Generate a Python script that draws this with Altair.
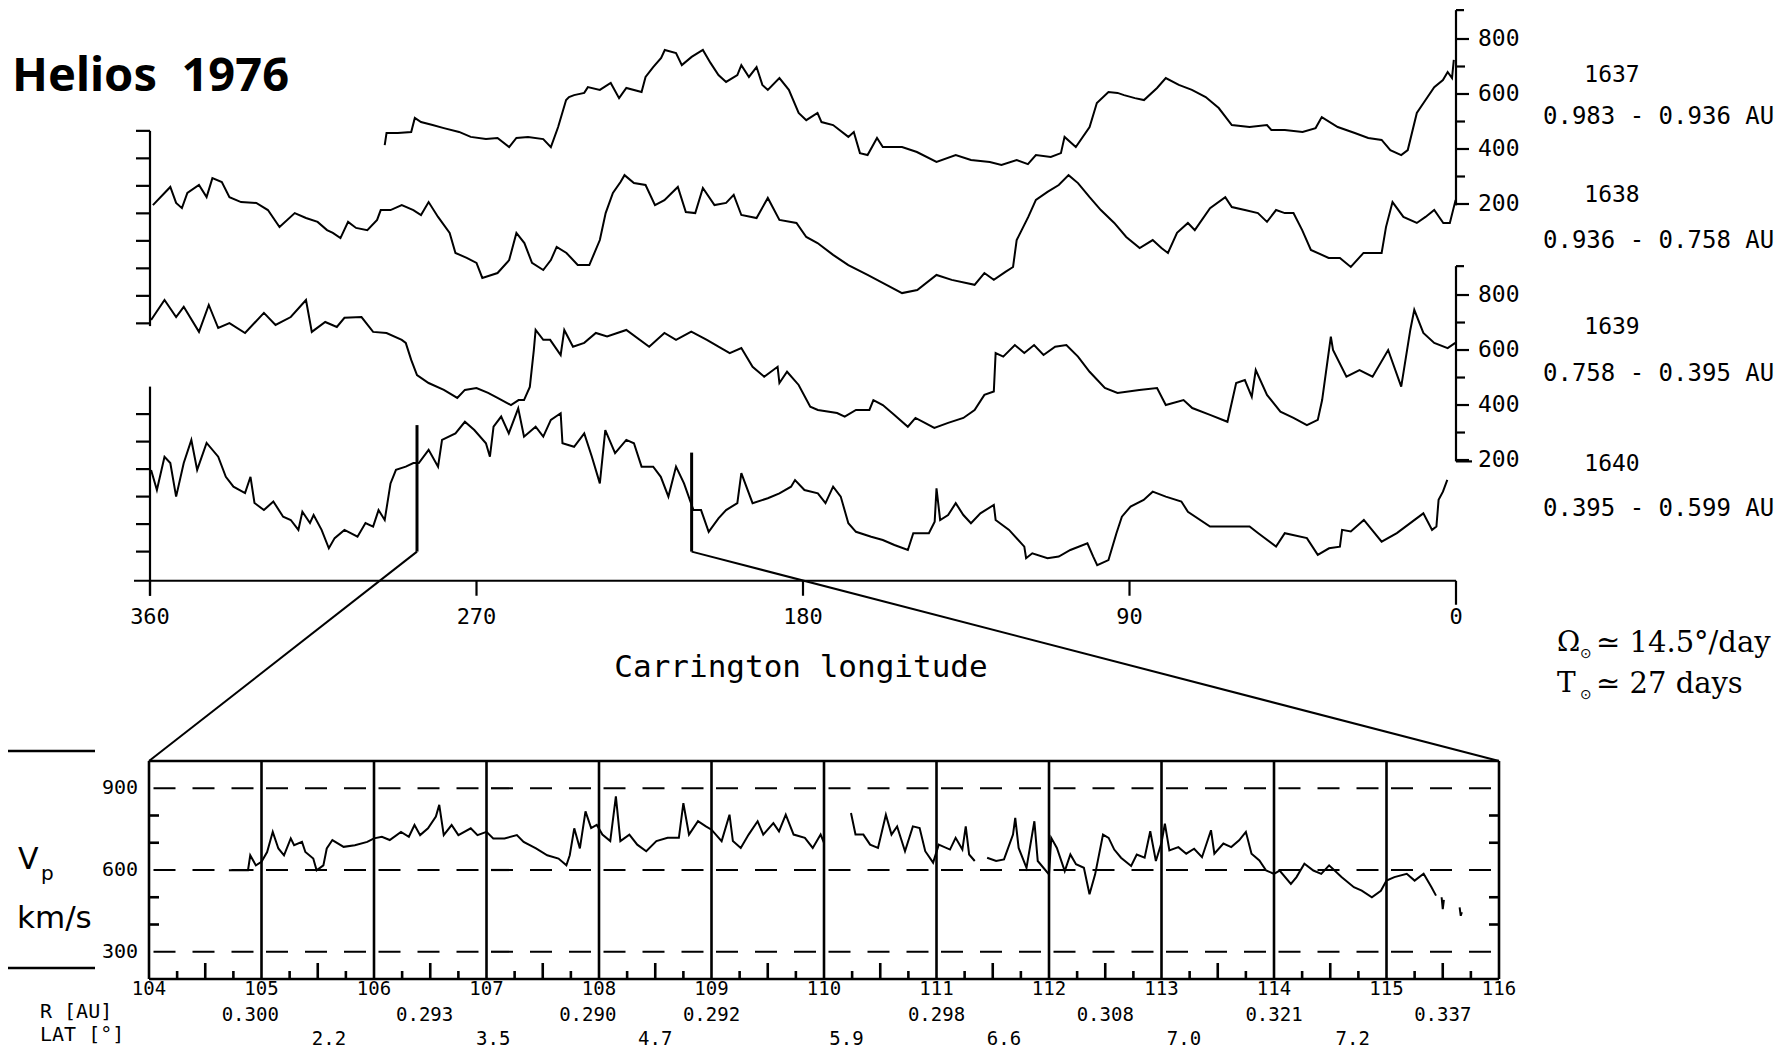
import altair as alt
import pandas as pd

# ---------------- data ----------------
rot_names = ["1637", "1638", "1639", "1640"]
rot_ranges = ["0.983 - 0.936 AU", "0.936 - 0.758 AU", "0.758 - 0.395 AU", "0.395 - 0.599 AU"]

lon_1637 = [295.3, 294.8, 291.7, 288.0, 287.0, 285.3, 282.1, 279.0, 274.8, 271.6, 267.4, 264.2, 261.0, 259.0,
            255.8, 251.6, 249.5, 247.5, 245.3, 244.5, 243.1, 240.3, 239.3, 236.0, 233.0, 230.7, 228.7, 224.5,
            223.4, 221.3, 219.1, 218.1, 215.0, 213.4, 210.7, 207.6, 205.5, 203.3, 201.2, 198.1, 197.0, 194.9,
            192.8, 191.2, 189.7, 186.5, 183.9, 181.2, 179.1, 176.0, 174.9, 171.7, 167.5, 166.0, 164.3, 162.2,
            159.6, 158.0, 152.7, 148.6, 143.2, 137.9, 133.7, 128.5, 125.3, 121.1, 118.0, 115.8, 111.7, 108.9,
            107.9, 104.8, 101.0, 99.0, 95.8, 93.3, 91.5, 88.5, 86.0, 82.4, 80.0, 76.4, 72.8, 69.0, 65.4, 61.8,
            56.9, 52.1, 50.9, 47.2, 42.3, 38.7, 37.0, 32.6, 27.9, 24.2, 20.5, 18.1, 15.1, 13.3, 10.8, 8.4, 6.0,
            3.6, 2.3, 1.1, 0.6]
v_1637 = [414, 458, 458, 462, 513, 498, 487, 476, 462, 444, 436, 440, 407, 440,
          444, 436, 407, 480, 578, 589, 596, 604, 625, 615, 640, 585, 622, 607,
          662, 698, 731, 760, 749, 705, 735, 760, 713, 669, 644, 669, 705, 662,
          698, 633, 615, 658, 615, 531, 505, 531, 498, 487, 444, 462, 385, 378,
          440, 407, 407, 389, 353, 378, 360, 353, 342, 360, 345, 378, 371, 385,
          444, 407, 480, 567, 607, 604, 596, 585, 578, 622, 658, 633, 615, 589, 549, 487,
          480, 487, 469, 469, 462, 476, 516, 480, 458, 440, 433, 396, 378, 396, 531, 578, 625,
          651, 680, 658, 724]

lon_1638 = [359.2, 356.0, 354.4, 352.8, 351.2, 349.7, 346.5, 344.4, 342.8, 340.2, 338.1, 334.9, 330.7, 327.5,
            324.3, 320.1, 317.0, 313.8, 311.2, 309.6, 307.5, 305.4, 303.2, 300.1, 297.4, 296.4, 293.7, 290.6,
            287.4, 285.3, 283.2, 280.6, 277.4, 275.8, 272.7, 270.0, 268.4, 264.2, 261.0, 259.0, 256.8, 254.7,
            251.6, 249.5, 247.9, 245.2, 242.1, 238.9, 236.0, 234.4, 232.4, 230.3, 229.2, 226.6, 223.4, 220.8,
            218.2, 214.5, 212.3, 209.7, 207.6, 204.4, 201.2, 199.1, 197.0, 192.8, 189.7, 186.5, 181.8, 179.1,
            176.0, 171.7, 167.5, 162.2, 157.0, 152.7, 148.5, 143.2, 139.0, 132.7, 130.0, 127.4, 124.2, 122.1,
            121.1, 117.9, 115.8, 112.6, 109.5, 106.8, 104.2, 101.0, 97.9, 94.2, 90.9, 87.2, 83.6, 81.2, 79.4,
            76.9, 73.9, 72.0, 67.8, 63.6, 61.8, 58.2, 54.6, 52.1, 49.6, 47.2, 44.8, 42.4, 40.0, 35.1, 32.0,
            29.0, 25.5, 20.5, 19.3, 17.5, 14.5, 10.8, 8.4, 6.0, 3.5, 1.7, 0.1]
v_1638 = [630, 674, 696, 638, 619, 674, 703, 659, 728, 714, 659, 641, 638, 612,
          550, 601, 583, 569, 539, 529, 510, 569, 547, 539, 576, 612, 612, 630,
          612, 594, 641, 587, 529, 456, 438, 420, 365, 383, 430, 529, 492, 420,
          394, 430, 478, 456, 412, 412, 503, 601, 674, 714, 739, 710, 703, 630,
          648, 696, 605, 601, 692, 630, 638, 667, 594, 583, 656, 576, 565, 514,
          492, 449, 412, 376, 340, 310, 321, 376, 358, 340, 383, 358, 387, 405,
          503, 587, 649, 678, 703, 739, 710, 659, 612, 565, 514, 474, 503, 474, 456,
          529, 565, 539, 619, 659, 623, 612, 601, 569, 612, 601, 601, 539, 467, 438, 438,
          405, 456, 456, 550, 641, 587, 565, 587, 612, 565, 565, 649]

lon_1639 = [359.7, 356.0, 352.8, 350.7, 346.5, 343.8, 341.2, 338.1, 333.8, 328.6, 325.4, 321.2, 317.0, 315.4,
            311.7, 308.5, 306.4, 301.7, 298.5, 294.8, 290.6, 289.5, 288.0, 286.4, 283.2, 279.0, 275.3, 273.2,
            270.0, 266.8, 264.2, 260.5, 258.4, 256.9, 255.3, 254.2, 253.7, 251.6, 249.7, 246.8, 245.8, 243.4,
            240.3, 237.1, 234.0, 228.7, 222.4, 218.2, 215.0, 210.8, 206.5, 203.3, 200.2, 197.0, 193.9, 190.7,
            187.0, 186.5, 184.4, 181.2, 178.0, 175.9, 170.6, 168.5, 165.4, 161.7, 160.6, 158.0, 154.8, 151.1,
            149.0, 146.4, 143.8, 140.0, 135.8, 132.7, 130.0, 127.4, 126.9, 124.8, 121.6, 119.0, 116.3, 113.7,
            110.5, 107.4, 104.2, 101.0, 96.8, 93.3, 87.3, 82.4, 80.0, 75.1, 72.7, 67.8, 63.0, 60.6, 58.2, 56.3,
            55.2, 52.1, 48.4, 44.8, 41.1, 38.1, 36.9, 34.5, 33.9, 30.2, 26.6, 23.0, 18.7, 15.1, 12.6, 11.5,
            9.0, 6.0, 2.3, 0.2]
v_1639 = [709, 782, 720, 757, 666, 764, 680, 698, 662, 735, 691, 720, 782, 666,
          702, 684, 717, 720, 666, 662, 637, 626, 564, 509, 480, 455, 426, 455,
          462, 444, 426, 400, 418, 418, 466, 600, 673, 637, 637, 582, 673, 612,
          626, 662, 649, 673, 612, 662, 637, 667, 637, 612, 589, 607, 539, 503,
          539, 480, 521, 473, 394, 382, 371, 358, 382, 382, 418, 400, 364, 321,
          353, 335, 317, 335, 353, 382, 437, 449, 589, 576, 618, 589, 618, 582,
          612, 618, 576, 521, 462, 444, 455, 462, 400, 418, 389, 364, 339, 480, 491, 430,
          527, 437, 376, 353, 327, 346, 418, 649, 600, 503, 527, 503, 600, 467, 673, 746,
          662, 626, 607, 626]

lon_1640 = [359.7, 358.1, 356.0, 354.4, 352.8, 350.7, 348.6, 347.0, 344.4, 341.2, 339.1, 337.0, 333.8, 332.3,
            331.2, 328.6, 326.0, 323.3, 321.2, 319.1, 318.0, 315.9, 314.9, 312.7, 310.7, 309.1, 306.4, 302.8,
            300.6, 298.5, 297.0, 295.3, 293.7, 292.2, 289.5, 287.4, 285.9, 283.2, 280.6, 279.5, 275.8, 273.2,
            270.6, 267.4, 266.3, 265.3, 263.2, 261.1, 258.5, 256.9, 253.7, 251.6, 249.5, 246.8, 246.3, 243.1,
            240.3, 238.2, 236.0, 234.5, 231.8, 228.7, 226.6, 224.5, 221.3, 219.2, 217.1, 215.0, 212.8, 210.2,
            208.1, 206.0, 203.3, 201.2, 198.1, 197.0, 193.9, 189.7, 186.5, 183.3, 182.2, 179.6, 175.9, 173.8,
            171.7, 169.6, 167.5, 165.4, 161.2, 158.0, 154.8, 151.1, 149.6, 145.3, 143.7, 143.2, 142.2, 140.0,
            137.9, 135.8, 133.7, 131.1, 127.4, 126.9, 123.2, 119.0, 118.5, 116.8, 112.6, 109.5, 106.3, 101.6,
            100.0, 98.9, 95.8, 93.6, 92.1, 89.7, 86.1, 83.6, 80.0, 75.7, 73.9, 67.8, 56.9, 54.5, 49.6, 47.2,
            41.1, 38.1, 35.0, 32.0, 31.4, 29.0, 25.4, 20.5, 16.3, 9.0, 6.6, 5.4, 4.8, 3.6, 2.4]
v_1640 = [597, 524, 645, 622, 500, 622, 706, 597, 695, 645, 572, 536, 513, 572,
          477, 451, 482, 427, 415, 379, 445, 404, 433, 379, 312, 349, 379, 354,
          404, 391, 451, 415, 548, 597, 609, 622, 622, 670, 609, 706, 730, 772,
          742, 694, 645, 754, 791, 730, 821, 718, 754, 718, 779, 803, 694, 681,
          730, 645, 548, 742, 658, 706, 694, 609, 609, 572, 500, 609, 548, 451,
          451, 372, 421, 451, 476, 585, 476, 494, 512, 536, 560, 524, 512, 476,
          536, 500, 403, 372, 354, 342, 324, 306, 367, 367, 409, 530, 415, 433,
          476, 433, 403, 439, 470, 415, 379, 318, 276, 294, 276, 282, 306, 330,
          282, 251, 269, 367, 427, 464, 488, 518, 500, 482, 445, 391, 391, 367, 318, 367,
          349, 288, 312, 318, 379, 373, 415, 336, 367, 439, 379, 391, 488, 518, 561]

# high resolution segment (days of 1976)
day_hr = [104.71, 104.88, 104.90, 104.95, 105.00, 105.05, 105.10, 105.15, 105.20, 105.26, 105.29, 105.36,
          105.39, 105.46, 105.49, 105.55, 105.58, 105.63, 105.73, 105.83, 105.94, 106.00, 106.07, 106.14,
          106.24, 106.31, 106.36, 106.41, 106.48, 106.55, 106.58, 106.62, 106.69, 106.75, 106.86, 106.92,
          107.00, 107.06, 107.16, 107.27, 107.33, 107.44, 107.54, 107.64, 107.71, 107.74, 107.78, 107.83,
          107.88, 107.93, 107.98, 108.03, 108.10, 108.15, 108.19, 108.27, 108.34, 108.42, 108.51, 108.61,
          108.71, 108.75, 108.80, 108.88, 108.95, 109.00, 109.09, 109.16, 109.19, 109.26, 109.33, 109.41,
          109.46, 109.55, 109.60, 109.66, 109.73, 109.83, 109.90, 109.97, 110.00,
          110.24, 110.28, 110.35, 110.41, 110.48, 110.55, 110.60, 110.65, 110.72, 110.79, 110.85, 110.90,
          110.97, 111.02, 111.12, 111.17, 111.23, 111.26, 111.29, 111.34,
          111.45, 111.53, 111.60, 111.68, 111.70, 111.73, 111.80, 111.87, 111.90, 112.00, 112.02, 112.07,
          112.14, 112.19, 112.24, 112.31, 112.36, 112.41, 112.48, 112.53, 112.58, 112.64, 112.73, 112.78,
          112.85, 112.90, 112.95, 113.00, 113.03, 113.07, 113.15, 113.22, 113.29, 113.36, 113.44, 113.47,
          113.55, 113.62, 113.69, 113.75, 113.80, 113.87, 113.93, 114.00, 114.05, 114.15, 114.20, 114.27,
          114.35, 114.42, 114.49, 114.60, 114.71, 114.78, 114.87, 114.95, 115.00, 115.07, 115.18, 115.25,
          115.33, 115.40, 115.44,
          115.49, 115.50, 115.51,
          115.65, 115.66, 115.67]
v_hr = [599, 599, 654, 617, 630, 666, 740, 679, 654, 716, 691, 703,
        666, 642, 599, 617, 679, 710, 685, 691, 703, 716, 722, 710,
        740, 722, 765, 728, 753, 796, 839, 728, 765, 728, 753, 728,
        740, 716, 716, 728, 703, 679, 654, 642, 617, 654, 753, 679,
        815, 754, 766, 730, 706, 870, 706, 730, 693, 669, 706, 718,
        718, 845, 730, 779, 760, 748, 706, 803, 706, 681, 730, 779,
        730, 772, 742, 803, 730, 718, 681, 730, 700,
        809, 730, 730, 693, 681, 803, 730, 760, 669, 760, 754, 669,
        627, 693, 675, 718, 675, 760, 657, 633,
        645, 633, 639, 730, 791, 681, 608, 779, 633, 584, 718, 681,
        596, 657, 621, 608, 511, 584, 730, 718, 675, 645, 615, 657,
        645, 742, 633, 700, 770, 672, 684, 660, 678, 647, 746, 660,
        697, 684, 709, 740, 660, 635, 598, 586, 598, 549, 574, 623,
        598, 586, 617, 574, 537, 524, 500, 524, 561, 574, 586, 561,
        586, 537, 506,
        500, 456, 490,
        463, 432, 445]
seg_hr = [1] * 81 + [2] * 20 + [3] * 63 + [4] * 3 + [5] * 3

lon_ticks = [360, 270, 180, 90, 0]
speed_ticks_up = [800, 600, 400, 200]
day_ticks = list(range(104, 117))
day_labels = ["104", "105", "106", "107", "108", "109", "110", "111", "112", "113", "114", "115", "116"]
vp_ticks = [900, 600, 300]
r_days = [104.9, 106.45, 107.9, 109.0, 111.0, 112.5, 114.0, 115.5]
r_vals = ["0.300", "0.293", "0.290", "0.292", "0.298", "0.308", "0.321", "0.337"]
lat_days = [105.6, 107.06, 108.5, 110.2, 111.6, 113.2, 114.7]
lat_vals = ["2.2", "3.5", "4.7", "5.9", "6.6", "7.0", "7.2"]
zoom_lon = [286.4, 210.7]          # start / end of the expanded interval
zoom_top_v = [760, 660]            # top of the interval markers (km/s, rotation 1640)

# ---------------- layout ----------------
W, H = 1790, 1055
X360, X0 = 150.0, 1456.0
KX = (X0 - X360) / 360.0
Y200, PXV = 204.0, 0.275
OFFS = {"1637": 0, "1638": -434, "1639": -931, "1640": -1364}
XD104, DPX = 149.0, 112.5
YV1000, VPX = 761.0, 0.2725
FONT_P = "DejaVu Sans Mono"


def px_lon(L):
    return X360 + (360 - L) * KX


def py_u(u):
    return Y200 - (u - 200) * PXV


def px_day(d):
    return XD104 + (d - 104) * DPX


def py_v(v):
    return YV1000 + (1000 - v) * VPX


XS_UP = alt.Scale(domain=[360 - (W - X360) / KX, 360 + X360 / KX], reverse=True, nice=False, zero=False)
YS_UP = alt.Scale(domain=[200 - (H - Y200) / PXV, 200 + Y200 / PXV], nice=False, zero=False)
XS_LO = alt.Scale(domain=[104 - XD104 / DPX, 104 + (W - XD104) / DPX], nice=False, zero=False)
YS_LO = alt.Scale(domain=[1000 - (H - YV1000) / VPX, 1000 + YV1000 / VPX], nice=False, zero=False)


def UX(f="lon"):
    return alt.X(f"{f}:Q", scale=XS_UP, axis=None)


def UY(f="u"):
    return alt.Y(f"{f}:Q", scale=YS_UP, axis=None)


def LX(f="day"):
    return alt.X(f"{f}:Q", scale=XS_LO, axis=None)


def LY(f="v"):
    return alt.Y(f"{f}:Q", scale=YS_LO, axis=None)


layers = []

# ---------- upper panel: four rotations ----------
rows = []
for name, lons, vs in [("1637", lon_1637, v_1637), ("1638", lon_1638, v_1638),
                       ("1639", lon_1639, v_1639), ("1640", lon_1640, v_1640)]:
    for i, (L, v) in enumerate(zip(lons, vs)):
        rows.append({"rot": name, "i": i, "lon": L, "u": v + OFFS[name]})
layers.append(alt.Chart(pd.DataFrame(rows)).mark_line(color="black", strokeWidth=2.0, strokeJoin="miter").encode(
    x=UX(), y=UY(), detail="rot:N", order="i:Q"))

# rules in upper-panel coordinates
rr = []


def urule(l1, l2, u1, u2):
    rr.append({"lon": l1, "lon2": l2, "u": u1, "u2": u2})


# x axis
u_axis = -1170
urule(360 + 16 / KX, 0, u_axis, u_axis)
for L in lon_ticks:
    urule(L, L, u_axis, u_axis - (24 if L == 0 else 15) / PXV)
# right axes (1637 scale and 1639 scale)
for off in (OFFS["1637"], OFFS["1639"]):
    urule(0, 0, off + 905, off + 195)
    urule(0, -8 / KX, off + 905, off + 905)
    for v in range(200, 900, 100):
        ln = 13 if v % 200 == 0 else 9
        urule(0, -ln / KX, off + v, off + v)
urule(0, -16 / KX, OFFS["1639"] + 195, OFFS["1639"] + 195)
# left axes (1638 and 1640)
urule(360, 360, OFFS["1638"] + 900, OFFS["1638"] + 190)
for v in range(200, 1000, 100):
    urule(360, 360 + 14 / KX, OFFS["1638"] + v, OFFS["1638"] + v)
urule(360, 360, OFFS["1640"] + 900, u_axis - 15 / PXV)
for v in range(300, 900, 100):
    urule(360, 360 + 14 / KX, OFFS["1640"] + v, OFFS["1640"] + v)
layers.append(alt.Chart(pd.DataFrame(rr)).mark_rule(color="black", strokeWidth=2.2).encode(
    x=UX(), x2="lon2:Q", y=UY(), y2="u2:Q"))

# interval markers on rotation 1640
mk = pd.DataFrame({"lon": zoom_lon, "lon2": zoom_lon,
                   "u": [300 + OFFS["1640"]] * 2, "u2": [t + OFFS["1640"] for t in zoom_top_v]})
layers.append(alt.Chart(mk).mark_rule(color="black", strokeWidth=3).encode(
    x=UX(), x2="lon2:Q", y=UY(), y2="u2:Q"))

# upper tick labels
layers.append(alt.Chart(pd.DataFrame({"lon": lon_ticks, "t": [str(t) for t in lon_ticks]})).mark_text(
    font=FONT_P, fontSize=22, align="center", baseline="middle").encode(
    x=UX(), y=alt.value(617), text="t:N"))
sl = []
for off in (OFFS["1637"], OFFS["1639"]):
    for v in speed_ticks_up:
        sl.append({"u": v + off, "t": str(v)})
layers.append(alt.Chart(pd.DataFrame(sl)).mark_text(
    font=FONT_P, fontSize=23, align="left", baseline="middle").encode(
    x=alt.value(1478), y=UY(), text="t:N"))

# rotation labels
rl = pd.DataFrame({"t": rot_names, "y": [75, 195, 327, 464]})
layers.append(alt.Chart(rl).mark_text(font=FONT_P, fontSize=23, align="center", baseline="middle").encode(
    x=alt.value(1612), y=alt.Y("y:Q", scale=None), text="t:N"))
rg = pd.DataFrame({"t": rot_ranges, "y": [117, 241, 374, 509]})
layers.append(alt.Chart(rg).mark_text(font=FONT_P, fontSize=24, align="left", baseline="middle").encode(
    x=alt.value(1543), y=alt.Y("y:Q", scale=None), text="t:N"))

# ---------- lower panel ----------
hr = pd.DataFrame({"day": day_hr, "v": v_hr, "seg": seg_hr, "i": list(range(len(day_hr)))})
layers.append(alt.Chart(hr).mark_line(color="black", strokeWidth=2.0).encode(
    x=LX(), y=LY(), detail="seg:N", order="i:Q"))

lr = []


def lrule(d1, d2, v1, v2):
    lr.append({"day": d1, "day2": d2, "v": v1, "v2": v2})


lrule(104, 116, 1000, 1000)
lrule(104, 116, 200, 200)
for d in day_ticks:
    lrule(d, d, 200, 1000)
for v in (400, 500, 700, 800):
    lrule(104, 104 + 10 / DPX, v, v)
    lrule(116, 116 - 10 / DPX, v, v)
for d in range(104, 116):
    for q in (0.25, 0.5, 0.75):
        lrule(d + q, d + q, 200, 200 + (16 if q == 0.5 else 8) / VPX)
layers.append(alt.Chart(pd.DataFrame(lr)).mark_rule(color="black", strokeWidth=2.6).encode(
    x=LX(), x2="day2:Q", y=LY(), y2="v2:Q"))

dl = []
for d in range(104, 116):
    for v in vp_ticks:
        dl.append({"day": d + 0.04, "day2": d + 0.98, "v": v, "v2": v})
layers.append(alt.Chart(pd.DataFrame(dl)).mark_rule(color="black", strokeWidth=2.2, strokeDash=[22, 17]).encode(
    x=LX(), x2="day2:Q", y=LY(), y2="v2:Q"))

layers.append(alt.Chart(pd.DataFrame({"v": vp_ticks, "t": [str(v) for v in vp_ticks]})).mark_text(
    font=FONT_P, fontSize=20, align="right", baseline="middle").encode(
    x=alt.value(138), y=LY(), text="t:N"))
layers.append(alt.Chart(pd.DataFrame({"day": day_ticks, "t": day_labels})).mark_text(
    font=FONT_P, fontSize=19, align="center", baseline="middle").encode(
    x=LX(), y=alt.value(989), text="t:N"))
layers.append(alt.Chart(pd.DataFrame({"day": r_days, "t": r_vals})).mark_text(
    font=FONT_P, fontSize=19, align="center", baseline="middle").encode(
    x=LX(), y=alt.value(1015), text="t:N"))
layers.append(alt.Chart(pd.DataFrame({"day": lat_days, "t": lat_vals})).mark_text(
    font=FONT_P, fontSize=19, align="center", baseline="middle").encode(
    x=LX(), y=alt.value(1039), text="t:N"))

# connectors between the marked interval and the expanded panel
con = pd.DataFrame({
    "x": [px_lon(zoom_lon[0]), px_lon(zoom_lon[1])],
    "y": [py_u(300 + OFFS["1640"])] * 2,
    "x2": [px_day(104), px_day(116)],
    "y2": [py_v(1000)] * 2,
})
layers.append(alt.Chart(con).mark_rule(color="black", strokeWidth=2).encode(
    x=alt.X("x:Q", scale=None), y=alt.Y("y:Q", scale=None), x2="x2:Q", y2="y2:Q"))

# left side decorations of lower panel
side = pd.DataFrame({"x": [8, 8], "x2": [95, 95], "y": [751, 968], "y2": [751, 968]})
layers.append(alt.Chart(side).mark_rule(color="black", strokeWidth=2.5).encode(
    x=alt.X("x:Q", scale=None), x2="x2:Q", y=alt.Y("y:Q", scale=None), y2="y2:Q"))

# ---------- text annotations ----------
def txt(t, x, y, size, font=FONT_P, weight="normal", align="left", baseline="middle"):
    return alt.Chart(pd.DataFrame({"t": [t]})).mark_text(
        font=font, fontSize=size, fontWeight=weight, align=align, baseline=baseline).encode(
        x=alt.value(x), y=alt.value(y), text="t:N")


layers.append(txt("Helios\u00a0\u00a01976", 12, 91, 47, font="Noto Sans", weight="bold", baseline="alphabetic"))
layers.append(txt("Carrington longitude", 801, 668, 31, align="center"))
layers.append(txt("V", 18, 860, 30, font="DejaVu Sans"))
layers.append(txt("p", 41, 874, 20, font="DejaVu Sans"))
layers.append(txt("km/s", 17, 919, 31, font="DejaVu Sans"))
layers.append(txt("R [AU]", 40, 1012, 20))
layers.append(txt("LAT [°]", 40, 1035, 20))
layers.append(txt("Ω", 1557, 643, 28, font="DejaVu Serif"))
layers.append(txt("⊙", 1580, 654, 14, font="DejaVu Sans"))
layers.append(txt("≃ 14.5°/day", 1596, 643, 29, font="DejaVu Serif"))
layers.append(txt("T", 1557, 684, 28, font="DejaVu Serif"))
layers.append(txt("⊙", 1580, 695, 14, font="DejaVu Sans"))
layers.append(txt("≃ 27 days", 1596, 684, 29, font="DejaVu Serif"))

chart = alt.layer(*layers).resolve_scale(x="independent", y="independent").properties(
    width=W, height=H, autosize=alt.AutoSizeParams(type="none"), padding=0,
    background="white").configure_view(stroke=None)

chart.save("out.html", embed_options={"renderer": "svg", "actions": False})
